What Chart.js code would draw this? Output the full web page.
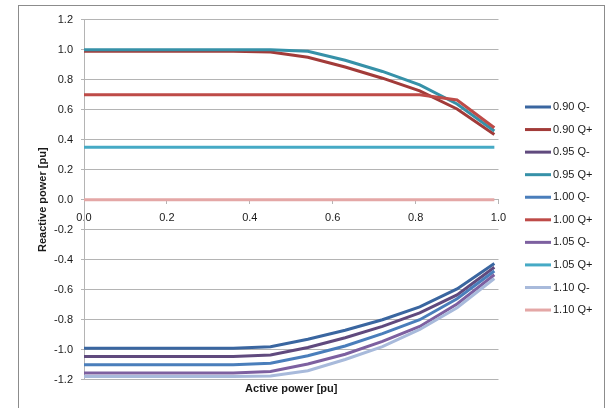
<!DOCTYPE html>
<html>
<head>
<meta charset="utf-8">
<script src="https://cdn.jsdelivr.net/npm/chart.js@4.4.1/dist/chart.umd.min.js"></script>
<style>
  html, body { margin: 0; padding: 0; background: #fff; }
  #wrap { position: relative; width: 606px; height: 408px; overflow: hidden; }
</style>
</head>
<body>
<div id="wrap"><canvas id="chart" width="606" height="408"></canvas></div>
<script>
  // active power (x) shared by all series
  const activePower = [0, 0.09, 0.18, 0.27, 0.36, 0.45, 0.54, 0.63, 0.72, 0.81, 0.90, 0.99];

  const labels = ['0.90 Q-', '0.90 Q+', '0.95 Q-', '0.95 Q+', '1.00 Q-', '1.00 Q+', '1.05 Q-', '1.05 Q+', '1.10 Q-', '1.10 Q+'];

  const q090m = [-0.99, -0.99, -0.99, -0.99, -0.99, -0.98, -0.93, -0.87, -0.80, -0.715, -0.595, -0.425];
  const q090p = [0.99, 0.99, 0.99, 0.99, 0.99, 0.985, 0.95, 0.885, 0.81, 0.725, 0.605, 0.435];
  const q095m = [-1.045, -1.045, -1.045, -1.045, -1.045, -1.035, -0.985, -0.92, -0.845, -0.755, -0.635, -0.45];
  const q095p = [1.0, 1.0, 1.0, 1.0, 1.0, 1.0, 0.99, 0.93, 0.855, 0.765, 0.638, 0.458];
  const q100m = [-1.10, -1.10, -1.10, -1.10, -1.10, -1.09, -1.04, -0.975, -0.893, -0.80, -0.66, -0.475];
  const q100p = [0.70, 0.70, 0.70, 0.70, 0.70, 0.70, 0.70, 0.70, 0.70, 0.70, 0.665, 0.48];
  const q105m = [-1.155, -1.155, -1.155, -1.155, -1.155, -1.145, -1.095, -1.03, -0.945, -0.845, -0.695, -0.50];
  const q105p = [0.35, 0.35, 0.35, 0.35, 0.35, 0.35, 0.35, 0.35, 0.35, 0.35, 0.35, 0.35];
  const q110m = [-1.178, -1.178, -1.178, -1.178, -1.178, -1.175, -1.14, -1.065, -0.98, -0.865, -0.72, -0.525];
  const q110p = [0, 0, 0, 0, 0, 0, 0, 0, 0, 0, 0, 0];

  const series = [q090m, q090p, q095m, q095p, q100m, q100p, q105m, q105p, q110m, q110p];

  const colors = ['#3A66A0', '#A23B39', '#604A7E', '#3691A8', '#4A7EBB', '#BE4B48', '#7D60A0', '#46AAC5', '#A8BADB', '#E4A7A6'];

  const FONT = '"Liberation Sans", Arial, sans-serif';
  const GRID = '#b4b4b4';
  const TEXT = '#1a1a1a';

  const datasets = series.map((vals, i) => ({
    label: labels[i],
    data: vals.map((v, j) => ({ x: activePower[j], y: v })),
    borderColor: colors[i],
    backgroundColor: colors[i],
    borderWidth: 3,
    pointRadius: 0,
    tension: 0,
    fill: false,
    order: series.length - i, // later series on top, like Excel
  }));

  // frame around the whole chart + legend on the right
  const framePlugin = {
    id: 'frame',
    beforeDraw(chart) {
      const ctx = chart.ctx;
      ctx.save();
      ctx.fillStyle = '#fff';
      ctx.fillRect(0, 0, chart.width, chart.height);
      ctx.strokeStyle = '#8c8c8c';
      ctx.lineWidth = 1;
      ctx.strokeRect(18.5, 5.5, 586, 430);
      ctx.restore();
    },
    afterDraw(chart) {
      const ctx = chart.ctx;
      ctx.save();
      ctx.font = '11px ' + FONT;
      ctx.textBaseline = 'middle';
      ctx.textAlign = 'left';
      labels.forEach((text, i) => {
        const y = 107 + i * 22.56;
        ctx.strokeStyle = colors[i];
        ctx.lineWidth = 3;
        ctx.beginPath();
        ctx.moveTo(525, y);
        ctx.lineTo(551, y);
        ctx.stroke();
        ctx.fillStyle = TEXT;
        ctx.fillText(text, 553, y);
      });
      ctx.restore();
    },
  };

  new Chart(document.getElementById('chart'), {
    type: 'line',
    data: { datasets: datasets },
    plugins: [framePlugin],
    options: {
      responsive: false,
      animation: false,
      devicePixelRatio: 1,
      layout: { padding: { left: 0, right: 107.5, top: 19.7, bottom: 0 } },
      plugins: {
        legend: { display: false },
        tooltip: { enabled: false },
      },
      scales: {
        x: {
          type: 'linear',
          position: { y: 0 },
          min: 0,
          max: 1,
          ticks: {
            stepSize: 0.2,
            padding: 7.5,
            color: TEXT,
            font: { family: FONT, size: 11 },
            callback: (v) => Number(v).toFixed(1),
          },
          grid: { drawOnChartArea: false, drawTicks: true, tickLength: 4, color: GRID },
          border: { color: GRID },
        },
        x2: {
          type: 'linear',
          position: 'bottom',
          min: 0,
          max: 1,
          ticks: { display: false },
          grid: { display: false, drawTicks: false, tickLength: 0 },
          border: { display: false },
          title: {
            display: true,
            text: 'Active power [pu]',
            color: TEXT,
            font: { family: FONT, size: 11, weight: 'bold' },
            padding: { top: 3, bottom: 12.1 },
          },
        },
        y: {
          type: 'linear',
          position: 'left',
          min: -1.2,
          max: 1.2,
          afterFit(scale) { scale.width = 84; },
          ticks: {
            stepSize: 0.2,
            padding: 8,
            color: TEXT,
            font: { family: FONT, size: 11 },
            callback: (v) => Number(v).toFixed(1),
          },
          grid: { color: GRID, tickLength: 3 },
          border: { color: GRID },
          title: {
            display: true,
            text: 'Reactive power [pu]',
            color: TEXT,
            font: { family: FONT, size: 11, weight: 'bold' },
            padding: { top: 36, bottom: 0 },
          },
        },
      },
    },
  });
</script>
</body>
</html>
